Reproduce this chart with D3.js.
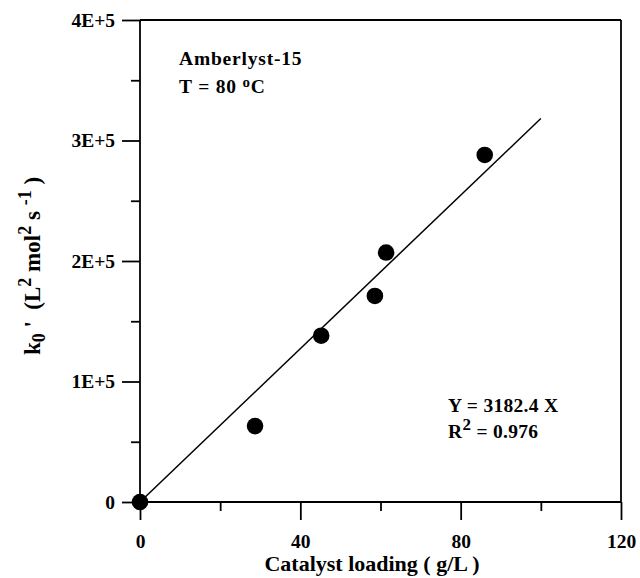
<!DOCTYPE html>
<html>
<head>
<meta charset="utf-8">
<script src="https://cdn.jsdelivr.net/npm/d3@7"></script>
<style>
  html, body { margin: 0; padding: 0; background: #fff; }
  svg { display: block; }
  text { font-family: "Liberation Serif", "Times New Roman", serif; font-weight: bold; fill: #000; }
</style>
</head>
<body>
<svg id="chart" width="640" height="578"></svg>
<script>
// ---- data ----
const loading = [0, 28.7, 45.2, 58.6, 61.4, 86];               // g/L
const k0 = [0, 63000, 138000, 171000, 207000, 288000];          // L2 mol2 s-1
const slope = 3182.4;
const fitRange = [0, 100];
const xTicks = [0, 40, 80, 120];
const xTickLabels = ["0", "40", "80", "120"];
const xMinorTicks = [20, 60, 100];
const yTicks = [0, 100000, 200000, 300000, 400000];
const yTickLabels = ["0", "1E+5", "2E+5", "3E+5", "4E+5"];
const yMinorTicks = [50000, 150000, 250000, 350000];

const svg = d3.select("#chart");
const x = d3.scaleLinear().domain([0, 120]).range([140, 621]);
const y = d3.scaleLinear().domain([0, 400000]).range([502, 20]);
const SW = 1.8;

// frame (top & right)
svg.append("line").attr("x1", x(0)).attr("x2", x(120)).attr("y1", y(400000)).attr("y2", y(400000))
  .attr("stroke", "#000").attr("stroke-width", SW);
svg.append("line").attr("x1", x(120)).attr("x2", x(120)).attr("y1", y(400000)).attr("y2", y(0))
  .attr("stroke", "#000").attr("stroke-width", SW);

// left axis
const yAxis = svg.append("g").attr("transform", `translate(${x(0)},0)`)
  .call(d3.axisLeft(y).tickValues(yTicks).tickSize(18).tickPadding(7)
    .tickFormat((d, i) => yTickLabels[i]));
svg.append("g").attr("transform", `translate(${x(0)},0)`)
  .call(d3.axisLeft(y).tickValues(yMinorTicks).tickSize(9).tickFormat(""))
  .call(g => g.select(".domain").remove());

// bottom axis
const xAxis = svg.append("g").attr("transform", `translate(0,${y(0)})`)
  .call(d3.axisBottom(x).tickValues(xTicks).tickSize(18).tickPadding(14)
    .tickFormat((d, i) => xTickLabels[i]));
svg.append("g").attr("transform", `translate(0,${y(0)})`)
  .call(d3.axisBottom(x).tickValues(xMinorTicks).tickSize(9).tickFormat(""))
  .call(g => g.select(".domain").remove());

svg.selectAll(".tick line").attr("stroke-width", SW);
svg.selectAll(".tick text").attr("font-size", 19.5)
  .style("font-family", '"Liberation Serif", serif').style("font-weight", "bold");

// replace domain paths with plain lines
yAxis.select(".domain").remove();
xAxis.select(".domain").remove();
svg.append("line").attr("x1", x(0)).attr("x2", x(0)).attr("y1", y(0)).attr("y2", y(400000))
  .attr("stroke", "#000").attr("stroke-width", SW);
svg.append("line").attr("x1", x(0)).attr("x2", x(120)).attr("y1", y(0)).attr("y2", y(0))
  .attr("stroke", "#000").attr("stroke-width", SW);

// fit line
svg.append("line")
  .attr("x1", x(fitRange[0])).attr("y1", y(slope * fitRange[0]))
  .attr("x2", x(fitRange[1])).attr("y2", y(slope * fitRange[1]))
  .attr("stroke", "#000").attr("stroke-width", 1.5);

// points
svg.selectAll("circle.pt").data(loading).enter().append("circle")
  .attr("class", "pt")
  .attr("cx", d => x(d)).attr("cy", (d, i) => y(k0[i]))
  .attr("r", 8.3).attr("fill", "#000");

// annotations
svg.append("text").attr("x", 179).attr("y", 65).attr("font-size", 19.5).attr("letter-spacing", 0.8)
  .text("Amberlyst-15");
const a2 = svg.append("text").attr("x", 179).attr("y", 93).attr("font-size", 19.5).attr("letter-spacing", 0.8);
a2.append("tspan").text("T = 80 ");
a2.append("tspan").attr("font-size", 15).attr("dy", -6).text("o");
a2.append("tspan").attr("dy", 6).text("C");

svg.append("text").attr("x", 448).attr("y", 412).attr("font-size", 19.5).attr("letter-spacing", 0.3)
  .text("Y = 3182.4 X");
const r2 = svg.append("text").attr("x", 448).attr("y", 438).attr("font-size", 19.5).attr("letter-spacing", 0.3);
r2.append("tspan").text("R");
r2.append("tspan").attr("font-size", 17).attr("dy", -8).text("2");
r2.append("tspan").attr("dy", 8).text(" = 0.976");

// x title
svg.append("text").attr("x", 372).attr("y", 571).attr("text-anchor", "middle").attr("font-size", 22)
  .text("Catalyst loading ( g/L )");

// y title
const yt = svg.append("text").attr("transform", "translate(40,266) rotate(-90)")
  .attr("text-anchor", "middle").attr("font-size", 23).style("white-space", "pre");
yt.append("tspan").text("k");
yt.append("tspan").attr("font-size", 18).attr("dy", 5).text("0");
yt.append("tspan").attr("dy", -5).text(" '  (L");
yt.append("tspan").attr("font-size", 18).attr("dy", -9).text("2");
yt.append("tspan").attr("dy", 9).text(" mol");
yt.append("tspan").attr("font-size", 18).attr("dy", -9).text("2");
yt.append("tspan").attr("dy", 9).text(" s ");
yt.append("tspan").attr("font-size", 18).attr("dy", -9).text("-1");
yt.append("tspan").attr("dy", 9).text(" )");
</script>
</body>
</html>
